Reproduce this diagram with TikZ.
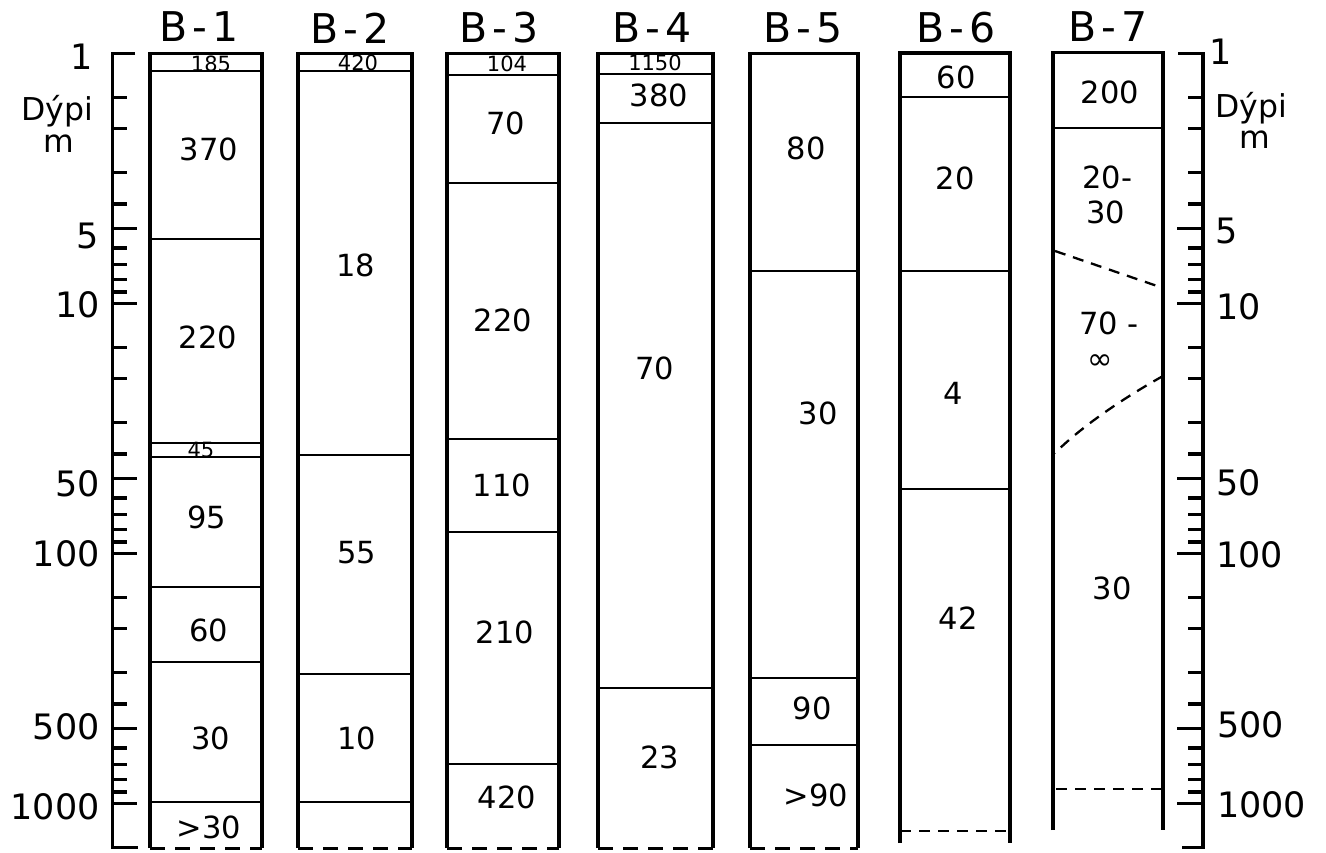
\documentclass[tikz,border=0pt]{standalone}
\usepackage{fontspec}
\setmainfont{DejaVu Sans}
\newcommand{\bhframe}[4]{\draw[box] (#1,#4) -- (#1,#3) -- (#2,#3) -- (#2,#4);}
\newcommand{\bhline}[3]{\draw[layer] (#1,#3) -- (#2,#3);}
\newcommand{\bhbottom}[3]{\draw[dashbot] (#1,#3) -- (#2,#3);}
\begin{document}
\begin{tikzpicture}[x=1pt,y=-1pt,
  box/.style={line width=3.6pt, line join=miter},
  axis/.style={line width=3.6pt, line join=miter},
  tick/.style={line width=3.4pt},
  layer/.style={line width=2.3pt},
  dashbot/.style={line width=3pt, dash pattern=on 15pt off 10pt},
  thindash/.style={line width=2.3pt, dash pattern=on 11pt off 8pt},
  num/.style={font=\fontsize{30.5}{30.5}\selectfont, inner sep=0pt},
  small/.style={font=\fontsize{21}{21}\selectfont, inner sep=0pt},
  title/.style={font=\fontsize{41}{41}\selectfont, inner sep=0pt},
  axlab/.style={font=\fontsize{35}{35}\selectfont, inner sep=0pt},
  unitlab/.style={font=\fontsize{31.5}{31.5}\selectfont, inner sep=0pt},
]
\useasboundingbox (0,0) rectangle (1326,852);

% ---------- depth axes ----------
\draw[axis] (135,53.5) -- (112.5,53.5) -- (112.5,847.5) -- (138,847.5);
\draw[axis] (1178,53.5) -- (1203,53.5) -- (1203,847.5) -- (1182,847.5);
\foreach \d in {1.5,2,3,4,6,7,8,9,15,20,30,40,60,70,80,90,150,200,300,400,600,700,800,900}{
  \pgfmathsetmacro{\yy}{53.5+250*log10(\d)}
  \draw[tick] (112.5,\yy) -- (127,\yy);
  \draw[tick] (1203,\yy) -- (1188,\yy);
}
\foreach \d in {5,10,50,100,500,1000}{
  \pgfmathsetmacro{\yy}{53.5+250*log10(\d)}
  \draw[tick] (112.5,\yy) -- (137,\yy);
  \draw[tick] (1203,\yy) -- (1177,\yy);
}
% left labels
\node[axlab] (l1) at (82,57) {1};
\node[unitlab, anchor=base] (ldypi) at (57,120) {Dýpi};
\node[unitlab, anchor=base] (lm) at (59,152) {m};
\node[axlab, anchor=east] (l5) at (99,236) {5};
\node[axlab, anchor=east] (l10) at (100,305) {10};
\node[axlab, anchor=east] (l50) at (100,484) {50};
\node[axlab, anchor=east] (l100) at (100,554) {100};
\node[axlab, anchor=east] (l500) at (100,727) {500};
\node[axlab, anchor=east] (l1000) at (100,807) {1000};
% right labels
\node[axlab] (r1) at (1221,52) {1};
\node[unitlab, anchor=base] (rdypi) at (1251,117) {Dýpi};
\node[unitlab, anchor=base] (rm) at (1255,148) {m};
\node[axlab, anchor=west] (r5) at (1215,231) {5};
\node[axlab, anchor=west] (r10) at (1216,307) {10};
\node[axlab, anchor=west] (r50) at (1216,483) {50};
\node[axlab, anchor=west] (r100) at (1216,555) {100};
\node[axlab, anchor=west] (r500) at (1217,725) {500};
\node[axlab, anchor=west] (r1000) at (1217,805) {1000};

% ---------- titles ----------
\node[title] (t1) at (199,27) {B\kern5pt-\kern5pt1};
\node[title] (t2) at (350,28) {B\kern5pt-\kern5pt2};
\node[title] (t3) at (499,28) {B\kern5pt-\kern5pt3};
\node[title] (t4) at (652,28) {B\kern5pt-\kern5pt4};
\node[title] (t5) at (803,28) {B\kern5pt-\kern5pt5};
\node[title] (t6) at (956,28) {B\kern5pt-\kern5pt6};
\node[title] (t7) at (1108,27) {B\kern5pt-\kern5pt7};

% ---------- B-1 ----------
\node[small] (b1a) at (211,64) {185};
\node[num] (b1b) at (209,149) {370};
\node[num] (b1c) at (208,337) {220};
\node[small] (b1d) at (201,450) {45};
\node[num] (b1e) at (207,517) {95};
\node[num] (b1f) at (209,630) {60};
\node[num] (b1g) at (211,738) {30};
\node[num] (b1h) at (209,827) {>30};
\foreach \y in {71,239,443,457,587,662,802}{\bhline{150}{262}{\y}}
\bhframe{150}{262}{53.5}{848}
\bhbottom{150}{262}{848}

% ---------- B-2 ----------
\node[small] (b2a) at (358,63) {420};
\node[num] (b2b) at (356,265) {18};
\node[num] (b2c) at (357,553) {55};
\node[num] (b2d) at (357,738) {10};
\foreach \y in {71,455,674,802}{\bhline{298}{412}{\y}}
\bhframe{298}{412}{53.5}{848}
\bhbottom{298}{412}{848}

% ---------- B-3 ----------
\node[small] (b3a) at (507,64) {104};
\node[num] (b3b) at (506,123) {70};
\node[num] (b3c) at (503,320) {220};
\node[num] (b3d) at (502,485) {110};
\node[num] (b3e) at (505,632) {210};
\node[num] (b3f) at (507,797) {420};
\foreach \y in {75,183,439,532,764}{\bhline{447}{559}{\y}}
\bhframe{447}{559}{53.5}{848}
\bhbottom{447}{559}{848}

% ---------- B-4 ----------
\node[small] (b4a) at (655,63) {1150};
\node[num] (b4b) at (659,95) {380};
\node[num] (b4c) at (655,368) {70};
\node[num] (b4d) at (660,757) {23};
\foreach \y in {74,123,688}{\bhline{598}{713}{\y}}
\bhframe{598}{713}{53.5}{848}
\bhbottom{598}{713}{848}

% ---------- B-5 ----------
\node[num] (b5a) at (806,148) {80};
\node[num] (b5b) at (818,413) {30};
\node[num] (b5c) at (812,708) {90};
\node[num] (b5d) at (816,795) {>90};
\foreach \y in {271,678,745}{\bhline{750}{858}{\y}}
\bhframe{750}{858}{53.5}{848}
\bhbottom{750}{858}{848}

% ---------- B-6 ----------
\node[num] (b6a) at (956,77) {60};
\node[num] (b6b) at (955,178) {20};
\node[num] (b6c) at (953,393) {4};
\node[num] (b6d) at (958,618) {42};
\foreach \y in {97,271,489}{\bhline{900}{1010}{\y}}
\bhframe{900}{1010}{53}{843}
\draw[thindash] (900,831) -- (1010,831);

% ---------- B-7 ----------
\node[num] (b7a) at (1110,92) {200};
\node[num, anchor=west] (b7b) at (1082,177) {20-};
\node[num, anchor=west] (b7c) at (1086,212) {30};
\node[num, anchor=west] (b7d) at (1079,323) {70 -};
\node[num] (b7e) at (1100,362) {∞};
\node[num] (b7f) at (1112,588) {30};
\bhline{1053}{1163}{128}
\bhframe{1053}{1163}{52.5}{830}
\draw[thindash] (1055,251) -- (1163,288);
\draw[thindash] (1163,376) .. controls (1120,400) and (1080,428) .. (1055,453);
\draw[thindash] (1056,789) -- (1163,789);
\end{tikzpicture}
\end{document}
